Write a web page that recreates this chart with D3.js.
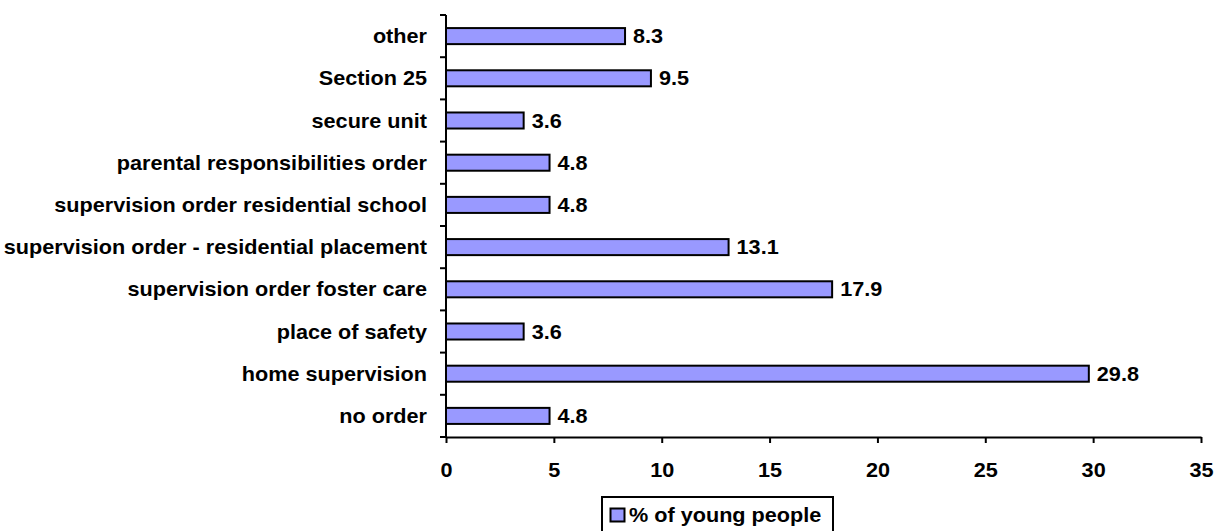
<!DOCTYPE html>
<html><head><meta charset="utf-8">
<script src="https://cdn.jsdelivr.net/npm/d3@7"></script>
<style>body{margin:0;background:#fff}svg{display:block;font-family:"Liberation Sans",Arial,sans-serif;font-weight:bold}</style>
</head><body><svg id="c" width="1220" height="531"></svg>
<script>
const categories = ["no order","home supervision","place of safety","supervision order foster care","supervision order - residential placement","supervision order residential school","parental responsibilities order","secure unit","Section 25","other"];
const values = [4.8,29.8,3.6,17.9,13.1,4.8,4.8,3.6,9.5,8.3];
const xTicks = [0,5,10,15,20,25,30,35];
const seriesName = "% of young people";

const FS = "19.5px", SX = 1.11;
const svg = d3.select("#c");
const pL = 446, pR = 1201, pT = 15, pB = 437;
const x = d3.scaleLinear().domain([0,35]).range([pL,pR]);
const y = d3.scaleBand().domain(categories.slice().reverse()).range([pT,pB]).paddingInner(0.62).paddingOuter(0.31);
const yb = d3.scaleBand().domain(categories.slice().reverse()).range([pT,pB]);

function txt(sel, fx, fy){
  sel.attr("x",0).attr("y",0).attr("font-size",FS).attr("fill","#000")
     .attr("transform",(d,i)=>`translate(${fx(d,i)},${fy(d,i)}) scale(${SX},1)`);
}

// bars
svg.selectAll("rect.bar").data(categories).join("rect")
  .attr("x", x(0)).attr("y", (d)=>y(d))
  .attr("width", (d,i)=>x(values[i])-x(0)).attr("height", y.bandwidth())
  .attr("fill","#9999FF").attr("stroke","#000").attr("stroke-width",2);

// value labels
svg.selectAll("text.val").data(categories).join("text").attr("class","val")
  .attr("dy","0.36em").text((d,i)=>values[i].toFixed(1))
  .call(txt,(d,i)=>x(values[i])+8,d=>y(d)+y.bandwidth()/2);

// y axis
const ya = svg.append("g");
ya.append("line").attr("x1",pL).attr("x2",pL).attr("y1",pT).attr("y2",pB).attr("stroke","#000").attr("stroke-width",2);
const bounds = categories.map(c=>yb(c)).concat([pB]);
ya.selectAll("line.t").data(bounds).join("line").attr("x1",pL-6).attr("x2",pL).attr("y1",d=>d).attr("y2",d=>d).attr("stroke","#000").attr("stroke-width",2);
ya.selectAll("text").data(categories).join("text")
  .attr("dy","0.36em").attr("text-anchor","end").text(d=>d)
  .call(txt,()=>427,d=>yb(d)+yb.bandwidth()/2);

// x axis
const xa = svg.append("g").attr("transform",`translate(0,${pB})`)
  .call(d3.axisBottom(x).tickValues(xTicks).tickSize(6).tickSizeOuter(0).tickPadding(20).tickFormat(d3.format("d")));
xa.select(".domain").attr("stroke-width",2);
xa.selectAll(".tick line").attr("stroke-width",2);
xa.selectAll(".tick text").attr("font-family","Liberation Sans, Arial, sans-serif").attr("font-weight","bold")
  .attr("font-size",FS).attr("fill","#000").attr("transform",`scale(${SX},1)`).attr("x",0);

// legend
const lg = svg.append("g");
lg.append("rect").attr("x",602).attr("y",497).attr("width",231).attr("height",40).attr("fill","#fff").attr("stroke","#000").attr("stroke-width",2);
lg.append("rect").attr("x",610.5).attr("y",508.5).attr("width",14).attr("height",13).attr("fill","#9999FF").attr("stroke","#000").attr("stroke-width",2);
lg.append("text").datum(seriesName).attr("dy","0.36em").text(d=>d).call(txt,()=>629,()=>515);
</script></body></html>
